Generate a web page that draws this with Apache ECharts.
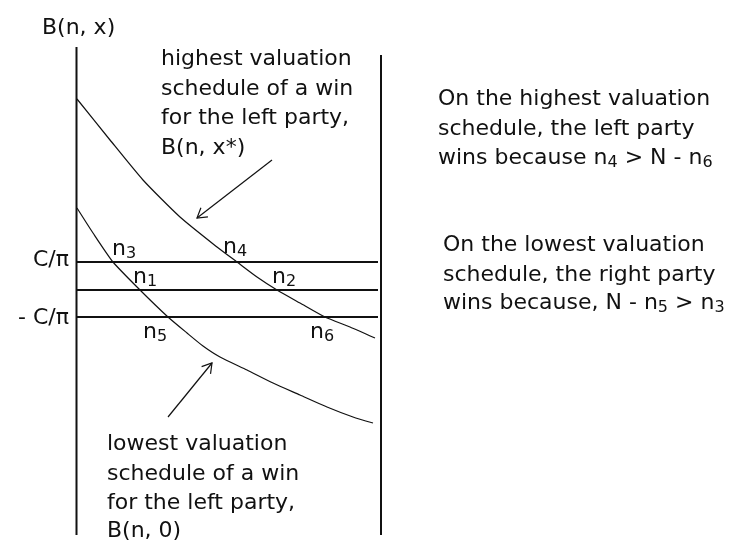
<!DOCTYPE html>
<html>
<head>
<meta charset="utf-8">
<script src="https://cdn.jsdelivr.net/npm/echarts@6/dist/echarts.min.js"></script>
<style>
  html, body { margin: 0; padding: 0; background: #fff; }
  #main { width: 734px; height: 542px; }
</style>
</head>
<body>
<div id="main"></div>
<script>
// n runs along the horizontal, B(n, x) up the vertical
const nRange = [0, 310];
const bRange = [0, 542];

// highest valuation schedule, B(n, x*)
const highN = [1, 34, 67, 104, 141, 161, 181, 201, 224, 249, 274, 299];
const highB = [443, 402, 362, 325, 295, 280, 265, 252, 239, 225, 215, 204];

// lowest valuation schedule, B(n, 0)
const lowN = [1, 17, 37, 64, 92, 111, 127, 144, 171, 197, 224, 251, 277, 297];
const lowB = [334, 309, 280, 252, 225, 209, 196, 185, 172, 159, 147, 135, 125, 119];

// horizontal levels: C/π, middle, -C/π
const levelLabels = ['C/π', '', '- C/π'];
const levelB = [280, 252, 225];
const levelEnd = 302;

// the two vertical bounds, n = 0 and n = N
const boundN = [0.5, 305];
const boundTop = [495, 487];
const boundBottom = 7;

const FONT = '"DejaVu Sans", Verdana, sans-serif';
const INK = '#111';

const chart = echarts.init(document.getElementById('main'));

function pairs(xs, ys) {
  return xs.map((x, i) => [x, ys[i]]);
}

const series = [];

// vertical bounds
boundN.forEach((n, i) => {
  series.push({
    type: 'line',
    data: [[n, boundTop[i]], [n, boundBottom]],
    symbol: 'none',
    lineStyle: { color: INK, width: 2 },
    clip: false
  });
});

// horizontal levels
levelB.forEach((b) => {
  series.push({
    type: 'line',
    data: [[1, b], [levelEnd, b]],
    symbol: 'none',
    lineStyle: { color: INK, width: 2 },
    clip: false
  });
});

// the two valuation schedules
series.push({
  name: 'B(n, x*)',
  type: 'line',
  data: pairs(highN, highB),
  symbol: 'none',
  smooth: 0.2,
  lineStyle: { color: INK, width: 1.2 }
});
series.push({
  name: 'B(n, 0)',
  type: 'line',
  data: pairs(lowN, lowB),
  symbol: 'none',
  smooth: 0.2,
  lineStyle: { color: INK, width: 1.2 }
});

// text helpers
const rich = {
  m: { fontSize: 22, fontFamily: FONT, lineHeight: 26, color: INK },
  s: { fontSize: 16, fontFamily: FONT, lineHeight: 16, verticalAlign: 'top', padding: [10, 0, 0, 0], color: INK }
};

function label(text, x, y, align) {
  return {
    type: 'text',
    silent: true,
    style: {
      text: text,
      x: x,
      y: y,
      fill: INK,
      fontSize: 22,
      fontFamily: FONT,
      align: align || 'left',
      textAlign: align || 'left',
      verticalAlign: 'middle',
      textVerticalAlign: 'middle',
      rich: rich
    }
  };
}

function block(lines, x, ys) {
  return lines.map((t, i) => label(t, x, ys[i]));
}

function arrow(x1, y1, x2, y2) {
  const a = Math.atan2(y1 - y2, x1 - x2);
  const len = 11, spread = 0.55;
  return [
    { type: 'line', silent: true, shape: { x1: x1, y1: y1, x2: x2, y2: y2 },
      style: { stroke: INK, lineWidth: 1.2 } },
    { type: 'polyline', silent: true,
      shape: { points: [
        [x2 + len * Math.cos(a + spread), y2 + len * Math.sin(a + spread)],
        [x2, y2],
        [x2 + len * Math.cos(a - spread), y2 + len * Math.sin(a - spread)]
      ] },
      style: { stroke: INK, lineWidth: 1.2, fill: null } }
  ];
}

const graphics = [].concat(
  [label('B(n, x)', 42, 28)],
  block(['highest valuation', 'schedule of a win', 'for the left party,', 'B(n, x*)'], 161, [59, 89, 118, 148]),
  block(['lowest valuation', 'schedule of a win', 'for the left party,', 'B(n, 0)'], 107, [444, 474, 503, 531]),
  block(['On the highest valuation', 'schedule, the left party',
         '{m|wins because n}{s|4}{m| > N - n}{s|6}'], 438, [99, 129, 158]),
  block(['On the lowest valuation', 'schedule, the right party',
         '{m|wins because, N - n}{s|5}{m| > n}{s|3}'], 443, [245, 275, 303]),
  [
    label(levelLabels[0], 69, 260, 'right'),
    label(levelLabels[2], 69, 318, 'right'),
    label('{m|n}{s|3}', 112, 249),
    label('{m|n}{s|4}', 223, 247),
    label('{m|n}{s|1}', 133, 277),
    label('{m|n}{s|2}', 272, 277),
    label('{m|n}{s|5}', 143, 332),
    label('{m|n}{s|6}', 310, 332)
  ],
  arrow(272, 160, 197, 218),
  arrow(168, 417, 212, 363)
);

chart.setOption({
  animation: false,
  backgroundColor: '#fff',
  grid: { left: 76, top: 0, width: 310, height: 542 },
  xAxis: { type: 'value', min: nRange[0], max: nRange[1], show: false },
  yAxis: { type: 'value', min: bRange[0], max: bRange[1], show: false },
  series: series,
  graphic: graphics
});
</script>
</body>
</html>
